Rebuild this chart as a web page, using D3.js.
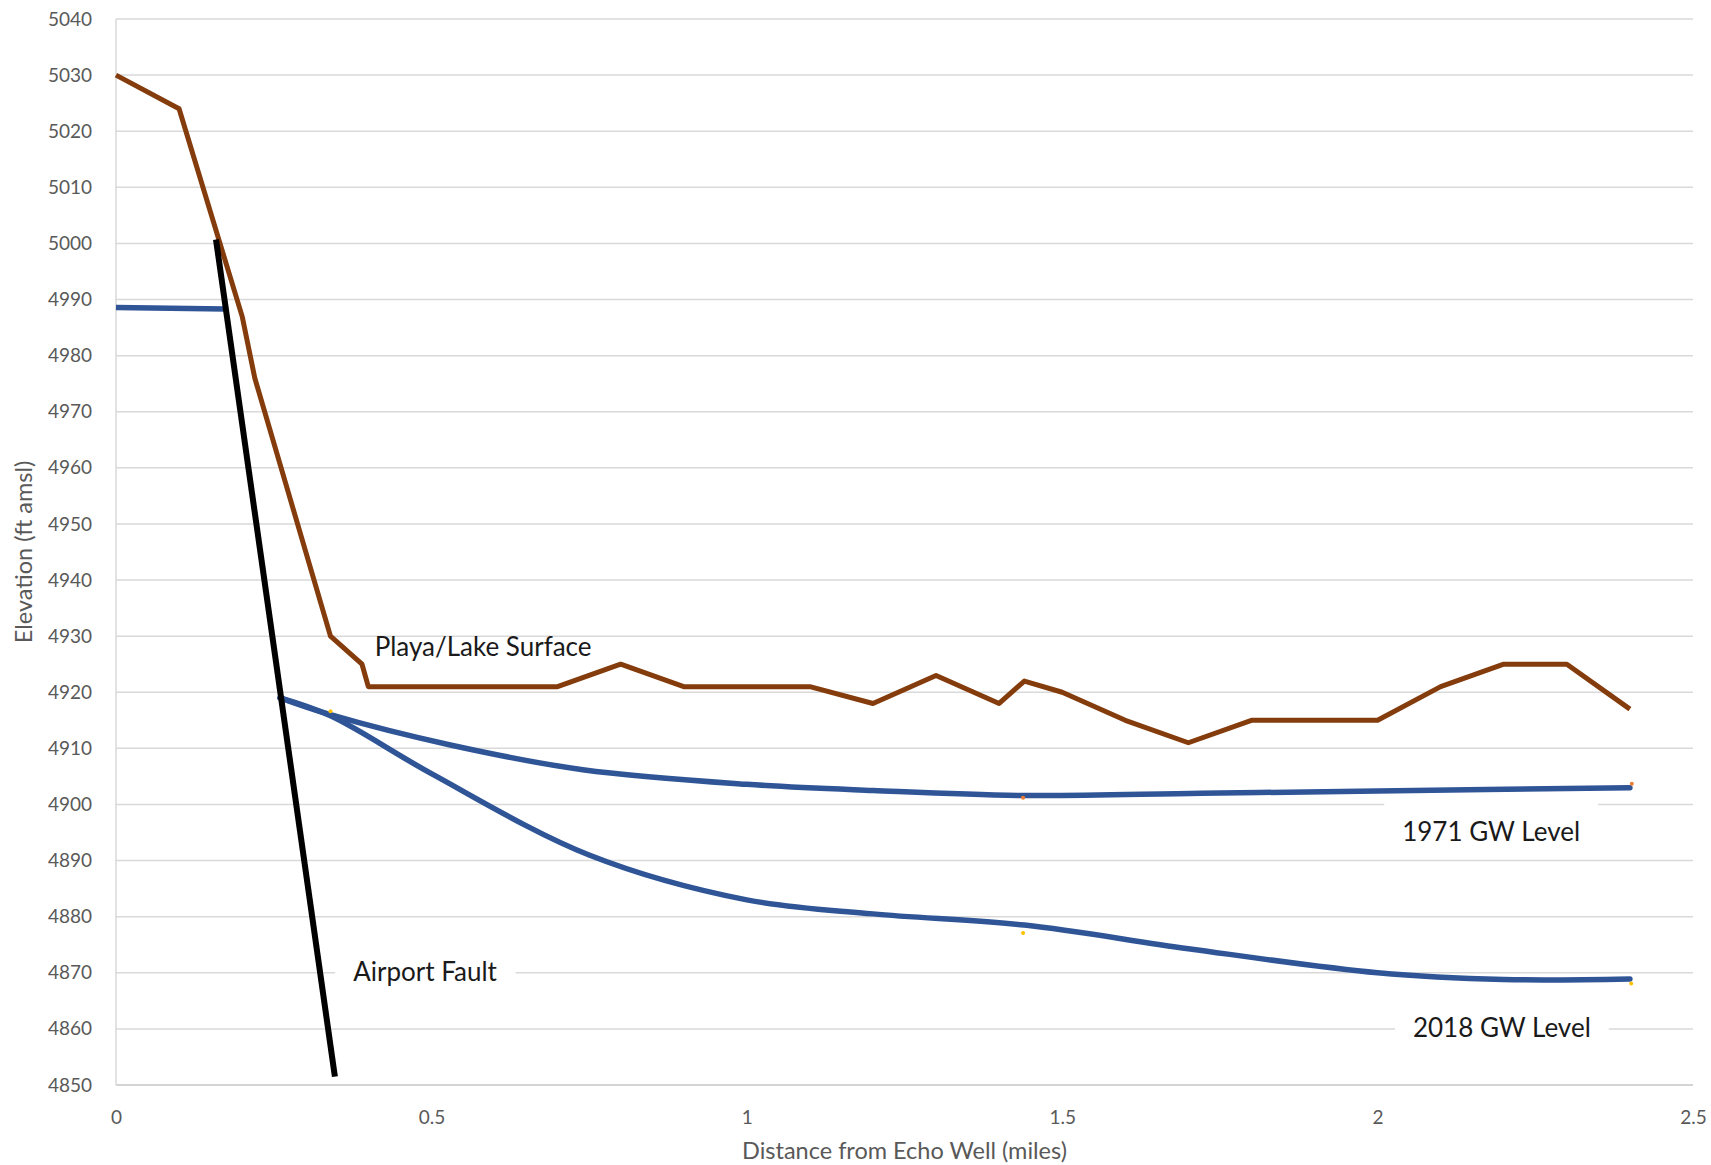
<!DOCTYPE html>
<html>
<head>
<meta charset="utf-8">
<script src="https://cdn.jsdelivr.net/npm/d3@7"></script>
<style>
    body { margin: 0; background: #fff; }
    .axis text { font-family: Lato, "Open Sans", sans-serif; font-size: 19px; fill: #595959; }
    .axis path, .axis line { display: none; }
    .title { font-family: Lato, "Open Sans", sans-serif; font-size: 23.5px; fill: #595959; }
    .note { font-family: Lato, "Open Sans", sans-serif; font-size: 26px; fill: #1a1a1a; }
</style>
</head>
<body>
<div id="profile"></div>
<script>
// distance (miles) / elevation (ft amsl) pairs
var playaX = [0, 0.1, 0.2, 0.22, 0.34, 0.39, 0.4, 0.7, 0.8, 0.9, 1.1, 1.2, 1.3, 1.4, 1.44, 1.5, 1.6, 1.7, 1.8, 2.0, 2.1, 2.2, 2.3, 2.4];
var playaY = [5030, 5024, 4987, 4976, 4930, 4925, 4921, 4921, 4925, 4921, 4921, 4918, 4923, 4918, 4922, 4920, 4915, 4911, 4915, 4915, 4921, 4925, 4925, 4917];

var gw1971X = [0.26, 0.34, 0.53, 0.74, 1.0, 1.2, 1.44, 1.72, 2.0, 2.4];
var gw1971Y = [4919, 4916, 4910.6, 4906.2, 4903.6, 4902.5, 4901.6, 4902, 4902.4, 4903];

var gw2018X = [0.26, 0.34, 0.5, 0.75, 1.0, 1.2, 1.44, 1.7, 2.0, 2.2, 2.4];
var gw2018Y = [4919, 4915.8, 4905.5, 4891, 4883, 4880.5, 4878.5, 4874.3, 4870, 4868.8, 4868.9];

// water level west of the fault
var westX = [0, 0.173];
var westY = [4988.6, 4988.3];

var faultX = [0.1585, 0.347];
var faultY = [5000.7, 4851.5];

// stray marker dots left in the original
var dotX = [1.438, 2.403, 1.438, 2.402, 0.34];
var dotY = [4901.2, 4903.7, 4877.1, 4868.1, 4916.6];
var dotColor = ["#ed7d31", "#ed7d31", "#ffc000", "#ffc000", "#ffc000"];

var xTicks = [0, 0.5, 1, 1.5, 2, 2.5];
var yTicks = d3.range(4850, 5041, 10);

var labels = ["Playa/Lake Surface", "Airport Fault", "1971 GW Level", "2018 GW Level"];
var labelX = [0.41, 0.376, 2.18, 2.197];
var labelY = [4928.1, 4870.2, 4895.1, 4860.2];
var labelAnchor = ["start", "start", "middle", "middle"];
var labelBox = [false, true, true, true];

function pairs(xs, ys) {
    return xs.map(function (x, i) { return [x, ys[i]]; });
}

var margin = { top: 19, right: 18, bottom: 80, left: 116 },
    width = 1711 - margin.left - margin.right,
    height = 1165 - margin.top - margin.bottom;

var x = d3.scaleLinear().domain([0, 2.5]).range([0, width]);
var y = d3.scaleLinear().domain([4850, 5040]).range([height, 0]);

var svg = d3.select("#profile").append("svg")
    .attr("width", 1711)
    .attr("height", 1165)
    .append("g")
    .attr("transform", "translate(" + margin.left + "," + margin.top + ")");

// horizontal gridlines
svg.append("g")
    .selectAll("line")
    .data(yTicks)
    .enter().append("line")
    .attr("x1", 0)
    .attr("x2", width)
    .attr("y1", function (d) { return y(d); })
    .attr("y2", function (d) { return y(d); })
    .attr("stroke", "#d9d9d9")
    .attr("stroke-width", 1.5);

svg.append("line")
    .attr("x1", 0).attr("x2", 0)
    .attr("y1", 0).attr("y2", height)
    .attr("stroke", "#d9d9d9")
    .attr("stroke-width", 1.5);

svg.append("line")
    .attr("x1", 0).attr("x2", width)
    .attr("y1", height).attr("y2", height)
    .attr("stroke", "#cfcfcf")
    .attr("stroke-width", 1.5);

svg.append("g")
    .attr("class", "axis axis--y")
    .call(d3.axisLeft(y).tickValues(yTicks).tickSize(0).tickPadding(24).tickFormat(function (d) { return d; }));

var xAxis = svg.append("g")
    .attr("class", "axis axis--x")
    .attr("transform", "translate(0," + height + ")")
    .call(d3.axisBottom(x).tickValues(xTicks).tickSize(0).tickFormat(function (d) { return d; }));
xAxis.selectAll("text").attr("y", 32).attr("dy", "0.35em");

var line = d3.line()
    .x(function (d) { return x(d[0]); })
    .y(function (d) { return y(d[1]); });

var smooth = d3.line()
    .curve(d3.curveCatmullRom.alpha(0.5))
    .x(function (d) { return x(d[0]); })
    .y(function (d) { return y(d[1]); });

// label boxes sit under the lines and hide the gridlines
var notes = svg.append("g");

svg.append("path")
    .datum(pairs(playaX, playaY))
    .attr("d", line)
    .attr("fill", "none")
    .attr("stroke", "#843c0c")
    .attr("stroke-width", 5)
    .attr("stroke-linejoin", "round");

svg.append("path")
    .datum(pairs(westX, westY))
    .attr("d", line)
    .attr("fill", "none")
    .attr("stroke", "#2f5597")
    .attr("stroke-width", 5.5);

[pairs(gw1971X, gw1971Y), pairs(gw2018X, gw2018Y)].forEach(function (pts) {
    svg.append("path")
        .datum(pts)
        .attr("d", smooth)
        .attr("fill", "none")
        .attr("stroke", "#2f5597")
        .attr("stroke-width", 5.5)
        .attr("stroke-linecap", "round");
});

svg.append("path")
    .datum(pairs(faultX, faultY))
    .attr("d", line)
    .attr("fill", "none")
    .attr("stroke", "#000")
    .attr("stroke-width", 6);

svg.append("g")
    .selectAll("circle")
    .data(pairs(dotX, dotY))
    .enter().append("circle")
    .attr("cx", function (d) { return x(d[0]); })
    .attr("cy", function (d) { return y(d[1]); })
    .attr("r", 2)
    .attr("fill", function (d, i) { return dotColor[i]; });

labels.forEach(function (t, i) {
    var g = notes.append("g");
    var txt = g.append("text")
        .attr("class", "note")
        .attr("x", x(labelX[i]))
        .attr("y", y(labelY[i]))
        .attr("dy", "0.35em")
        .attr("text-anchor", labelAnchor[i])
        .text(t);
    if (labelBox[i]) {
        var b = txt.node().getBBox();
        g.insert("rect", "text")
            .attr("x", b.x - 18)
            .attr("y", y(labelY[i]) - 32)
            .attr("width", b.width + 36)
            .attr("height", 58)
            .attr("fill", "#fff");
    }
});

svg.append("text")
    .attr("class", "title")
    .attr("text-anchor", "middle")
    .attr("x", width / 2)
    .attr("y", height + 66)
    .attr("dy", "0.35em")
    .text("Distance from Echo Well (miles)");

svg.append("text")
    .attr("class", "title")
    .attr("text-anchor", "middle")
    .attr("transform", "translate(" + (24 - margin.left) + "," + (height / 2) + ") rotate(-90)")
    .attr("dy", "0.35em")
    .text("Elevation (ft amsl)");
</script>
</body>
</html>
